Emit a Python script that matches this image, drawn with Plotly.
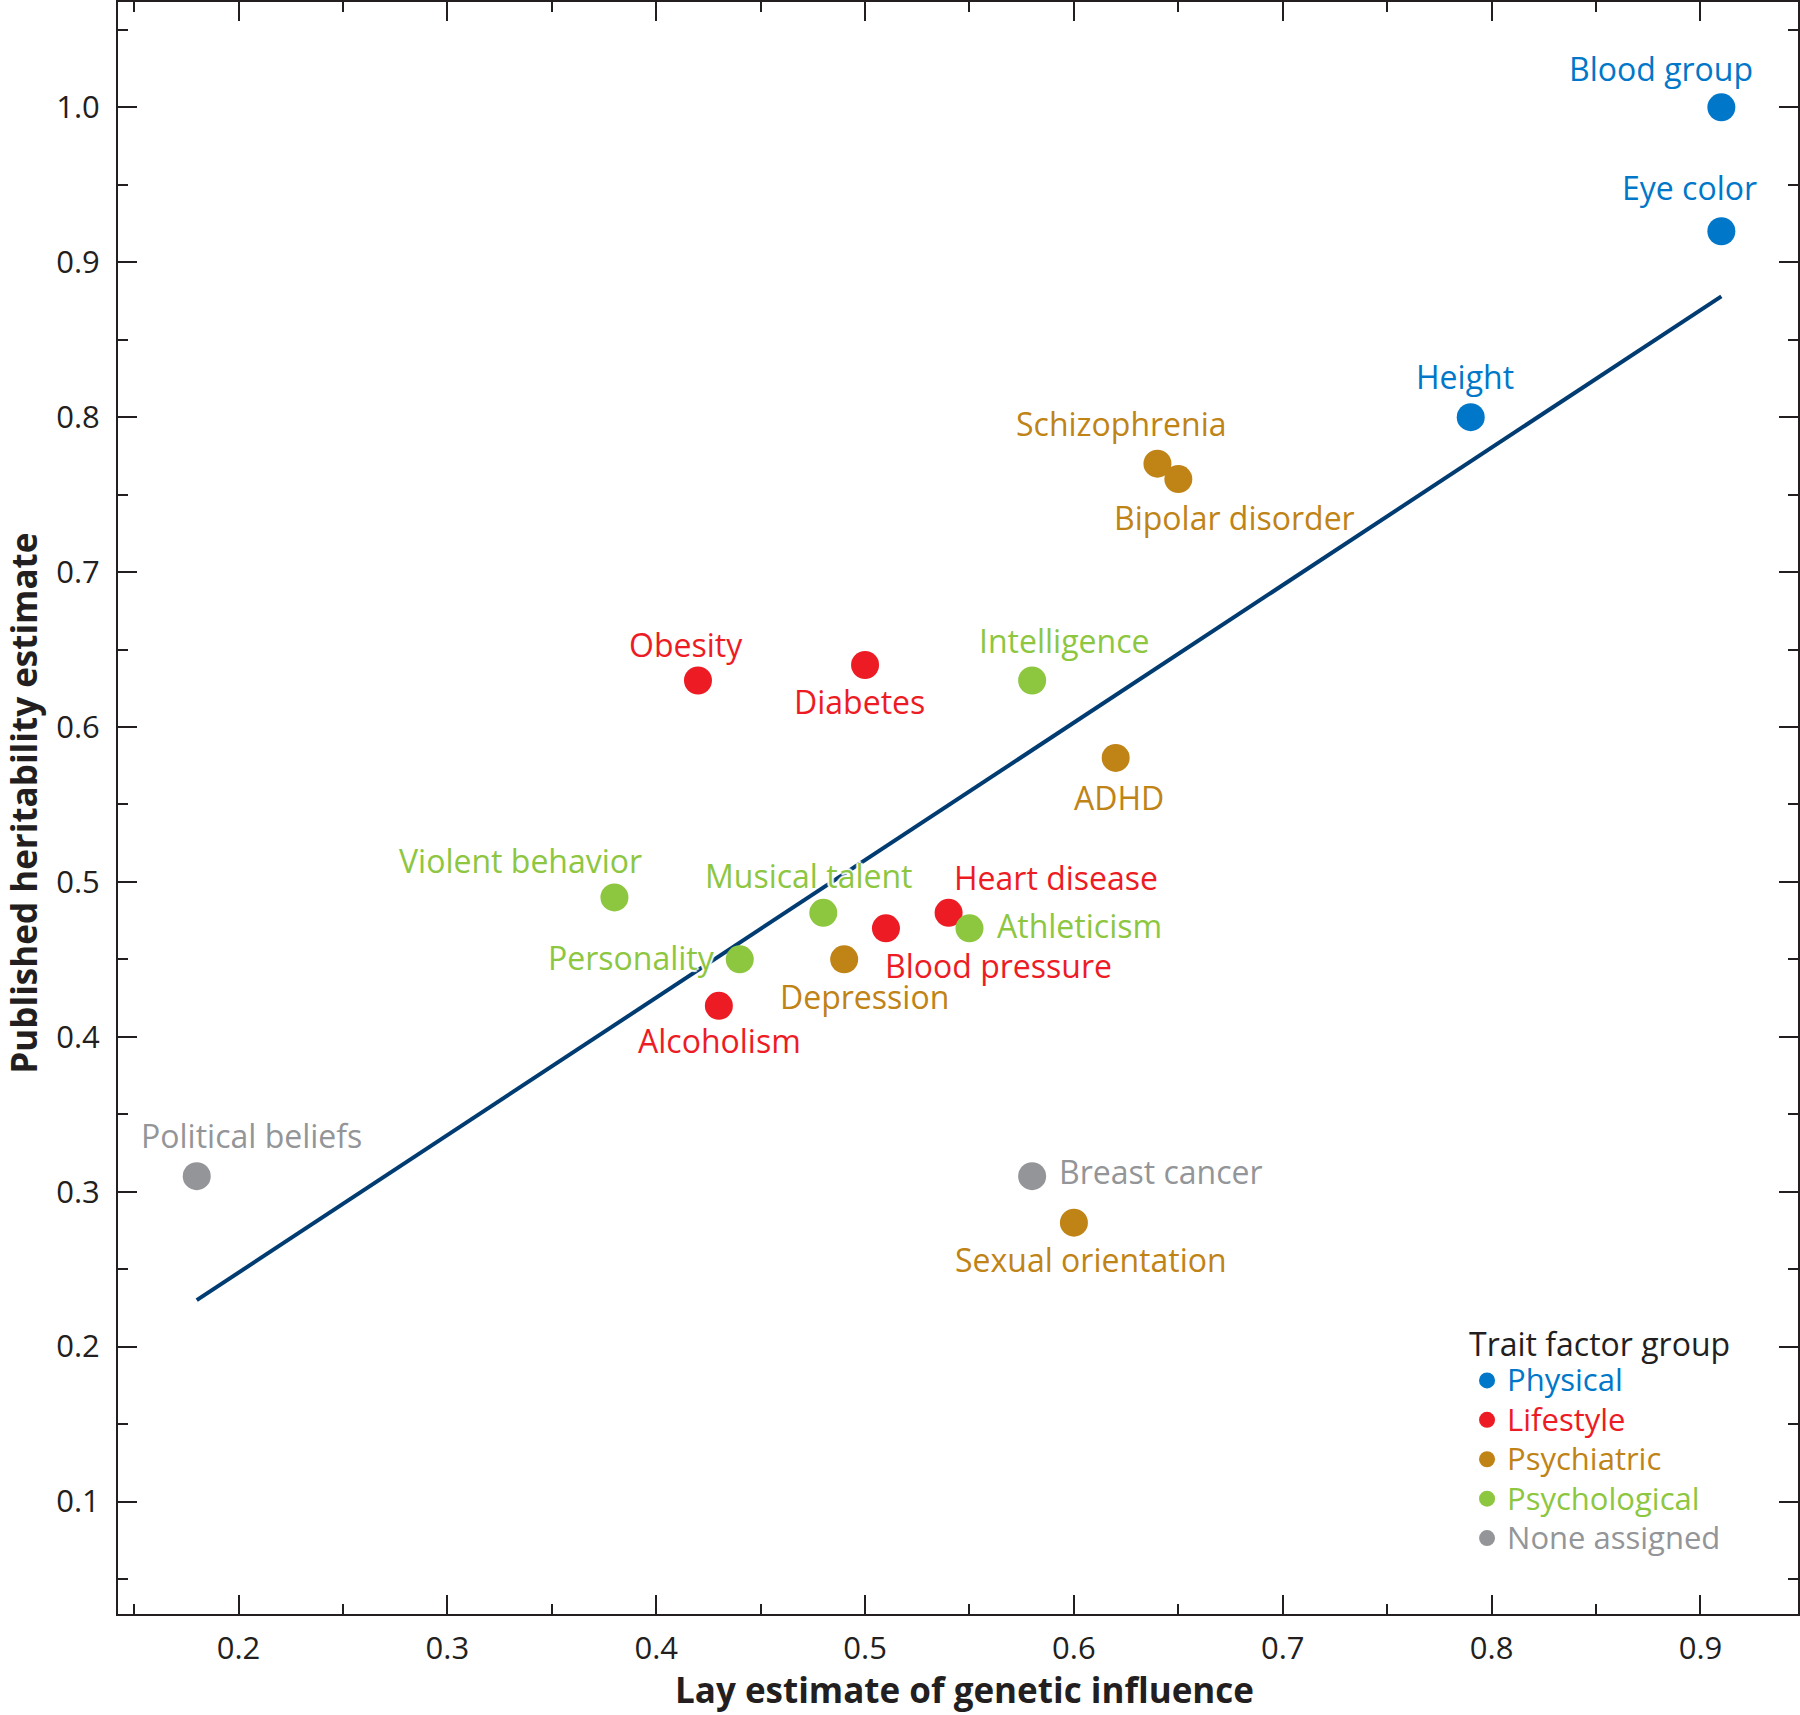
import plotly.graph_objects as go

# ---- data ----
traits = ["Blood group", "Eye color", "Height",
          "Obesity", "Diabetes", "Heart disease", "Blood pressure", "Alcoholism",
          "Schizophrenia", "Bipolar disorder", "ADHD", "Depression", "Sexual orientation",
          "Intelligence", "Violent behavior", "Musical talent", "Athleticism", "Personality",
          "Political beliefs", "Breast cancer"]
groups = ["Physical", "Physical", "Physical",
          "Lifestyle", "Lifestyle", "Lifestyle", "Lifestyle", "Lifestyle",
          "Psychiatric", "Psychiatric", "Psychiatric", "Psychiatric", "Psychiatric",
          "Psychological", "Psychological", "Psychological", "Psychological", "Psychological",
          "None assigned", "None assigned"]
lay_estimate = [0.91, 0.91, 0.79,
                0.42, 0.50, 0.54, 0.51, 0.43,
                0.64, 0.65, 0.62, 0.49, 0.60,
                0.58, 0.38, 0.48, 0.55, 0.44,
                0.18, 0.58]
published_estimate = [1.00, 0.92, 0.80,
                      0.63, 0.64, 0.48, 0.47, 0.42,
                      0.77, 0.76, 0.58, 0.45, 0.28,
                      0.63, 0.49, 0.48, 0.47, 0.45,
                      0.31, 0.31]
fit_x = [0.18, 0.91]
fit_y = [0.23, 0.878]

group_order = ["Physical", "Lifestyle", "Psychiatric", "Psychological", "None assigned"]
x_ticks = [0.2, 0.3, 0.4, 0.5, 0.6, 0.7, 0.8, 0.9]
y_ticks = [0.1, 0.2, 0.3, 0.4, 0.5, 0.6, 0.7, 0.8, 0.9, 1.0]
x_title = "Lay estimate of genetic influence"
y_title = "Published heritability estimate"
legend_title = "Trait factor group"

# ---- styling ----
colors = {"Physical": "#0077c8", "Lifestyle": "#ed1c24", "Psychiatric": "#c08316",
          "Psychological": "#8dc63f", "None assigned": "#939598"}
# label placement: (xanchor, xshift px, yshift px)
label_pos = {
    "Blood group": ("right", 34, 39),
    "Eye color": ("right", 38, 44),
    "Height": ("center", -6, 41),
    "Obesity": ("center", -12, 36),
    "Diabetes": ("center", -6, -36),
    "Heart disease": ("left", 3, 35),
    "Blood pressure": ("left", -3, -37),
    "Alcoholism": ("center", 1, -35),
    "Schizophrenia": ("center", -36, 40),
    "Bipolar disorder": ("center", 56, -38),
    "ADHD": ("center", 3, -40),
    "Depression": ("center", 20, -37),
    "Sexual orientation": ("center", 17, -37),
    "Intelligence": ("center", 32, 40),
    "Violent behavior": ("center", -94, 37),
    "Musical talent": ("center", -14, 37),
    "Athleticism": ("left", 26, 3),
    "Personality": ("right", -23, 2),
    "Political beliefs": ("center", 55, 41),
    "Breast cancer": ("left", 25, 5),
}
FONT = "Open Sans"
AX = "#231f20"
HALO = "2px 0 1px #fff, -2px 0 1px #fff, 0 2px 1px #fff, 0 -2px 1px #fff"

fig = go.Figure()
fig.add_trace(go.Scatter(x=fit_x, y=fit_y, mode="lines",
                         line=dict(color="#003c71", width=4),
                         showlegend=False, hoverinfo="skip"))

for g in group_order:
    xs = [lay_estimate[i] for i in range(len(traits)) if groups[i] == g]
    ys = [published_estimate[i] for i in range(len(traits)) if groups[i] == g]
    tx = [traits[i] for i in range(len(traits)) if groups[i] == g]
    fig.add_trace(go.Scatter(
        x=xs, y=ys, mode="markers", text=tx,
        marker=dict(color=colors[g], size=28, line=dict(width=0)),
        name=f"<span style='color:{colors[g]};font-size:31px'>{g}</span>",
    ))

annotations = []
for i, t in enumerate(traits):
    xa, xs_, ys_ = label_pos[t]
    annotations.append(dict(
        x=lay_estimate[i], y=published_estimate[i], xref="x", yref="y",
        text=t, showarrow=False, xanchor=xa, yanchor="middle",
        xshift=xs_, yshift=ys_,
        font=dict(family=FONT, size=32, color=colors[groups[i]], shadow=HALO),
    ))

# axis titles
annotations.append(dict(
    x=0.5036, y=0, xref="paper", yref="paper", text=f"<b>{x_title}</b>",
    showarrow=False, xanchor="center", yanchor="middle", yshift=-75,
    font=dict(family=FONT, size=35, color=AX),
))
annotations.append(dict(
    x=0, y=0.5027, xref="paper", yref="paper", text=f"<b>{y_title}</b>",
    showarrow=False, xanchor="center", yanchor="middle", xshift=-94,
    textangle=-90, font=dict(family=FONT, size=35, color=AX),
))

axis_common = dict(
    showline=True, linecolor=AX, linewidth=2, mirror="allticks",
    ticks="inside", ticklen=19, tickwidth=2, tickcolor=AX,
    showgrid=False, zeroline=False, automargin=False,
    tickfont=dict(family=FONT, size=31, color=AX),
    minor=dict(ticks="inside", ticklen=10, tickwidth=2, tickcolor=AX, dtick=0.05, showgrid=False),
)

fig.update_layout(
    width=1800, height=1715,
    margin=dict(l=118, r=2, t=2, b=101, autoexpand=False),
    paper_bgcolor="white", plot_bgcolor="white",
    font=dict(family=FONT, color=AX),
    annotations=annotations,
    showlegend=True,
    legend=dict(
        title=dict(text=legend_title, font=dict(family=FONT, size=32, color=AX)),
        font=dict(family=FONT, size=28),
        x=0.803, y=0.186, xanchor="left", yanchor="top",
        bgcolor="rgba(0,0,0,0)", borderwidth=0,
        itemsizing="trace", tracegroupgap=0,
    ),
    xaxis=dict(
        range=[0.1423, 0.9467], tickvals=x_ticks,
        ticktext=[f"{v:.1f}" for v in x_ticks],
        ticklabelstandoff=6,
        **axis_common,
    ),
    yaxis=dict(
        range=[0.0274, 1.068], tickvals=y_ticks,
        ticktext=[f"{v:.1f}" for v in y_ticks],
        ticklabelstandoff=10,
        **axis_common,
    ),
)

fig.write_html("out.html",
               config={"displayModeBar": False},
               post_script="document.body.style.margin='0';document.body.style.overflow='hidden';")
